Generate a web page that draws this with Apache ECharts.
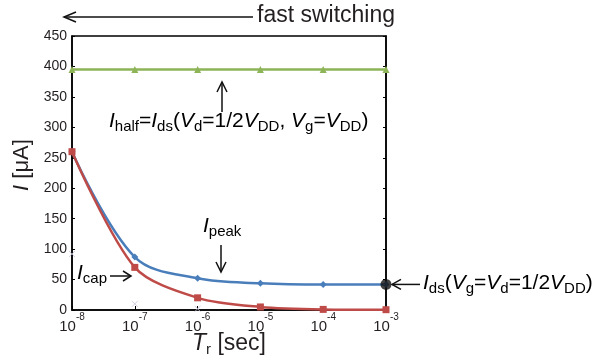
<!DOCTYPE html>
<html>
<head>
<meta charset="utf-8">
<script src="https://cdn.jsdelivr.net/npm/echarts@6/dist/echarts.min.js"></script>
<style>
html,body{margin:0;padding:0;background:#fff;}
#c{width:603px;height:361px;}
</style>
</head>
<body>
<div id="c"></div>
<script>
// ---- data ----
var tr = [1e-8, 1e-7, 1e-6, 1e-5, 1e-4, 1e-3];
var iHalf = [395, 395, 395, 395, 395, 395];
var iPeak = [260, 87, 52, 44, 42, 42];
var iCap = [260, 70, 20, 5, 1, 0.5];
var ghostX = [1e-8, 1e-7, 1e-6];
var ghostY = [92, 10, 2];
var idsPoint = [1e-3, 42];
var yTicks = [0, 50, 100, 150, 200, 250, 300, 350, 400, 450];
var xTickExp = [-8, -7, -6, -5, -4, -3];

var FONT = 'Liberation Sans, Arial, sans-serif';
var TXT = '#231f20';

function pairs(xs, ys) { return xs.map(function (x, i) { return [x, ys[i]]; }); }

var chart = echarts.init(document.getElementById('c'), null, {renderer: 'canvas'});

var xSymbol = 'path://M0,0 L10,10 M10,0 L0,10';

var annRich = {
  b: {fontSize: 21, fontFamily: FONT, color: TXT, lineHeight: 26},
  i: {fontSize: 21, fontFamily: FONT, color: TXT, fontStyle: 'italic', lineHeight: 26},
  s: {fontSize: 15, fontFamily: FONT, color: TXT, lineHeight: 15, verticalAlign: 'bottom'}
};

var option = {
  animation: false,
  backgroundColor: '#fff',
  grid: {left: 72, right: 217, top: 36, bottom: 51, show: true, borderColor: '#000', borderWidth: 1.5,
    backgroundColor: 'transparent', containLabel: false, outerBoundsMode: 'none'},
  xAxis: {
    type: 'log', logBase: 10, min: 1e-8, max: 1e-3,
    axisLine: {lineStyle: {color: '#000', width: 1.5}},
    axisTick: {inside: true, length: 4, lineStyle: {color: '#000'}},
    minorTick: {show: false},
    splitLine: {show: false},
    axisLabel: {
      margin: 2,
      formatter: function (v) {
        var e = Math.round(Math.log10(v));
        return '{b|10}{p|' + e + '}';
      },
      rich: {
        b: {fontSize: 15, fontFamily: FONT, color: TXT, lineHeight: 22, verticalAlign: 'bottom'},
        p: {fontSize: 10, fontFamily: FONT, color: TXT, lineHeight: 10, verticalAlign: 'top'}
      }
    },
    name: '{i|T}{s|r} [sec]',
    nameLocation: 'middle', nameGap: 21, nameMoveOverlap: false,
    nameTextStyle: {
      rich: {
        i: {fontSize: 23, fontFamily: FONT, color: TXT, fontStyle: 'italic', lineHeight: 26},
        s: {fontSize: 15, fontFamily: FONT, color: TXT, lineHeight: 15, verticalAlign: 'bottom'}
      },
      fontSize: 23, fontFamily: FONT, color: TXT
    }
  },
  yAxis: [{
    type: 'value', min: 0, max: 450, interval: 50,
    axisLine: {show: true, lineStyle: {color: '#000', width: 1.5}},
    axisTick: {show: true, inside: true, length: 3, lineStyle: {color: '#000'}},
    splitLine: {show: false},
    axisLabel: {fontSize: 14, fontFamily: FONT, color: TXT, margin: 5},
    name: '{i|I} [μA]',
    nameLocation: 'middle', nameGap: 38, nameRotate: 90,
    nameTextStyle: {
      fontSize: 22, fontFamily: FONT, color: TXT, padding: [0, 0, 0, 16],
      rich: {i: {fontSize: 22, fontFamily: FONT, color: TXT, fontStyle: 'italic'}}
    }
  }, {
    type: 'value', min: 0, max: 450, interval: 50, position: 'right',
    axisLine: {show: true, lineStyle: {color: '#000', width: 1.5}},
    axisTick: {show: true, inside: true, length: 3, lineStyle: {color: '#000'}},
    axisLabel: {show: false}, splitLine: {show: false}
  }],
  series: [
    {
      type: 'scatter', data: pairs(ghostX, ghostY), symbol: xSymbol, symbolSize: 6,
      itemStyle: {color: 'none', borderColor: '#c4c4de', borderWidth: 1}, z: 1
    },
    {
      type: 'line', data: pairs(tr, iHalf), smooth: 0.3, symbol: 'triangle', symbolSize: 7, showSymbol: true,
      lineStyle: {color: '#8db457', width: 2.5}, itemStyle: {color: '#8db457'}, z: 3
    },
    {
      type: 'line', data: pairs(tr, iPeak), smooth: 0.35, symbol: 'diamond', symbolSize: 7,
      lineStyle: {color: '#4a7ebb', width: 2.5}, itemStyle: {color: '#4a7ebb'}, z: 3
    },
    {
      type: 'line', data: pairs(tr, iCap), smooth: 0.3, symbol: 'rect', symbolSize: 7,
      lineStyle: {color: '#be4b48', width: 2.5}, itemStyle: {color: '#be4b48'}, z: 4
    },
    {
      type: 'scatter', data: [idsPoint], symbol: 'circle', symbolSize: 11,
      itemStyle: {color: '#111'}, z: 6
    }
  ]
};
chart.setOption(option);

function arrow(x1, y1, x2, y2, head) {
  var dx = x2 - x1, dy = y2 - y1, L = Math.sqrt(dx * dx + dy * dy);
  var ux = dx / L, uy = dy / L, h = head || 9, w = 5;
  var bx = x2 - ux * h, by = y2 - uy * h;
  return [
    {type: 'line', shape: {x1: x1, y1: y1, x2: x2, y2: y2}, style: {stroke: '#111', lineWidth: 1.5}, z: 100},
    {type: 'polyline', shape: {points: [[bx - uy * w, by + ux * w], [x2, y2], [bx + uy * w, by - ux * w]]},
      style: {stroke: '#111', lineWidth: 1.5, fill: null}, z: 100}
  ];
}

var dot = chart.convertToPixel({xAxisIndex: 0, yAxisIndex: 0}, idsPoint);
var g = [];
g = g.concat(arrow(253, 17, 64, 17, 12));
g.push({type: 'text', left: 257, top: 4, z: 100,
  style: {text: 'fast switching', font: '23px ' + FONT, fill: TXT}});

g = g.concat(arrow(222, 112, 222, 82, 10));
g.push({type: 'text', left: 109, top: 111, z: 100,
  style: {text: '{i|I}{s|half}{b|=}{i|I}{s|ds}{b|(}{i|V}{s|d}{b|=1/2}{i|V}{s|DD}{b|, }{i|V}{s|g}{b|=}{i|V}{s|DD}{b|)}', rich: annRich}});

g.push({type: 'text', left: 203, top: 216, z: 100,
  style: {text: '{i|I}{s|peak}', rich: annRich}});
g = g.concat(arrow(221, 245, 221, 272, 10));

g.push({type: 'text', left: 77, top: 263, z: 100,
  style: {text: '{i|I}{s|cap}', rich: annRich}});
g = g.concat(arrow(110, 276, 131, 276, 8));

g = g.concat(arrow(dot[0] + 34, dot[1], dot[0] + 6, dot[1], 9));
g.push({type: 'text', left: dot[0] + 37, top: dot[1] - 12, z: 100,
  style: {text: '{i|I}{s|ds}{b|(}{i|V}{s|g}{b|=}{i|V}{s|d}{b|=1/2}{i|V}{s|DD}{b|)}', rich: annRich}});

chart.setOption({graphic: g});
</script>
</body>
</html>
